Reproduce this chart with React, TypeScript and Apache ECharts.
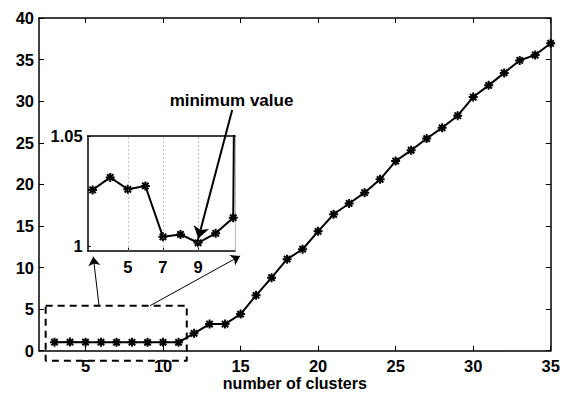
import React, { useEffect, useRef } from "react";
import * as echarts from "echarts";

// number of clusters (x) and objective value (y)
const clusters = [3, 4, 5, 6, 7, 8, 9, 10, 11, 12, 13, 14, 15, 16, 17, 18, 19, 20, 21, 22, 23, 24, 25, 26, 27, 28, 29, 30, 31, 32, 33, 34, 35];
const values = [1.0255, 1.0312, 1.0258, 1.0273, 1.0042, 1.0053, 1.0015, 1.0058, 1.0129, 2.09, 3.2, 3.2, 4.4, 6.66, 8.78, 11.0, 12.2, 14.35, 16.4, 17.7, 19.0, 20.6, 22.8, 24.1, 25.5, 26.8, 28.25, 30.5, 31.9, 33.4, 34.9, 35.55, 36.96];
const insetPointCount = 10; // x = 3..12 shown (clipped) in the inset

const mainXTicks = [5, 10, 15, 20, 25, 30, 35];
const insetXTicks = [5, 7, 9];
const insetYTicks = [1, 1.05];

// annotation geometry in data units
const zoomBoxX = [2.43, 11.53];
const zoomBoxY = [-1.2, 5.41];
const leftArrow = [[5.87, 5.41], [5.5, 11.3]];
const rightArrow = [[9.16, 5.41], [14.97, 11.39]];
const minArrow = [[10.94, 1.0618], [9.01, 1.0034]];

const ASTERISK = "path://M0,-1L0,1M-1,0L1,0M-0.707,-0.707L0.707,0.707M-0.707,0.707L0.707,-0.707";

export default function App() {
  const ref = useRef<HTMLDivElement>(null);
  useEffect(() => {
    if (!ref.current) return;
    const chart = echarts.init(ref.current, null, { renderer: "svg" });
    const font = { fontFamily: "Liberation Sans", fontWeight: "bold", fontSize: 16.5, color: "#000" };
    const axisLine = { show: true, onZero: false, lineStyle: { color: "#000", width: 1.5 } };
    const pts = clusters.map((c, i) => [c, values[i]]);
    const box = [
      [zoomBoxX[0], zoomBoxY[1]],
      [zoomBoxX[1], zoomBoxY[1]],
      [zoomBoxX[1], zoomBoxY[0]],
      [zoomBoxX[0], zoomBoxY[0]],
      [zoomBoxX[0], zoomBoxY[1]],
    ];
    const option: any = {
      animation: false,
      backgroundColor: "#fff",
      grid: [
        { left: 39, top: 18, right: 17.3, bottom: 42.3, outerBoundsMode: "none" },
        { left: 87.7, top: 136, width: 147.3, height: 114.7, outerBoundsMode: "none" },
      ],
      xAxis: [
        {
          gridIndex: 0, type: "value", position: "bottom", min: 2, max: 35,
          axisLine,
          axisTick: { show: true, inside: true, length: 5, customValues: mainXTicks, lineStyle: { color: "#000", width: 1 } },
          axisLabel: { customValues: mainXTicks, margin: 7, ...font },
          splitLine: { show: false },
          name: "number of clusters", nameLocation: "middle", nameGap: 24.5, nameMoveOverlap: false,
          nameTextStyle: { ...font, fontSize: 16 },
        },
        {
          gridIndex: 0, type: "value", position: "top", min: 2, max: 35,
          axisLine,
          axisTick: { show: true, inside: true, length: 5, customValues: mainXTicks, lineStyle: { color: "#000", width: 1 } },
          axisLabel: { show: false },
          splitLine: { show: false },
        },
        {
          gridIndex: 1, type: "value", position: "bottom", min: 2.72, max: 11.1,
          axisLine,
          axisTick: { show: true, inside: true, length: 3, customValues: insetXTicks, lineStyle: { color: "#000", width: 1 } },
          axisLabel: { customValues: insetXTicks, margin: 8, ...font },
          splitLine: { show: false },
        },
        {
          gridIndex: 1, type: "value", position: "top", min: 2.72, max: 11.1,
          axisLine,
          axisTick: { show: false },
          axisLabel: { show: false },
          splitLine: { show: false },
        },
      ],
      yAxis: [
        {
          gridIndex: 0, type: "value", position: "left", min: 0, max: 40, interval: 5,
          axisLine,
          axisTick: { show: true, inside: true, length: 5, lineStyle: { color: "#000", width: 1 } },
          axisLabel: { margin: 5, ...font },
          splitLine: { show: false },
        },
        {
          gridIndex: 0, type: "value", position: "right", min: 0, max: 40, interval: 5,
          axisLine,
          axisTick: { show: true, inside: true, length: 5, lineStyle: { color: "#000", width: 1 } },
          axisLabel: { show: false },
          splitLine: { show: false },
        },
        {
          gridIndex: 1, type: "value", position: "left", min: 0.9979, max: 1.05,
          axisLine,
          axisTick: { show: true, inside: true, length: 3, customValues: insetYTicks, lineStyle: { color: "#000", width: 1 } },
          axisLabel: {
            customValues: insetYTicks, margin: 5, ...font,
            formatter: (v: number) => (Math.abs(v - 1) < 1e-6 ? "1" : v.toFixed(2)),
          },
          splitLine: { show: false },
        },
        {
          gridIndex: 1, type: "value", position: "right", min: 0.9979, max: 1.05,
          axisLine: { show: true, onZero: false, lineStyle: { color: "#bbb", width: 1 } },
          axisTick: { show: false },
          axisLabel: { show: false },
          splitLine: { show: false },
        },
      ],
      series: [
        {
          type: "line", xAxisIndex: 0, yAxisIndex: 0, data: pts, silent: true, z: 4,
          symbol: ASTERISK, symbolSize: 9,
          itemStyle: { color: "#000", borderColor: "#000", borderWidth: 2 },
          lineStyle: { color: "#000", width: 2 },
        },
        {
          type: "line", xAxisIndex: 2, yAxisIndex: 2, data: pts.slice(0, insetPointCount), silent: true, clip: true, z: 4,
          symbol: ASTERISK, symbolSize: 9,
          itemStyle: { color: "#000", borderColor: "#000", borderWidth: 2 },
          lineStyle: { color: "#000", width: 2 },
          markLine: {
            silent: true, symbol: "none", label: { show: false },
            lineStyle: { type: [1, 3], color: "#888", width: 1 },
            data: insetXTicks.map((v) => ({ xAxis: v })),
          },
        },
        {
          type: "line", xAxisIndex: 0, yAxisIndex: 0, data: box, silent: true, clip: false, z: 3,
          symbol: "none",
          lineStyle: { color: "#000", width: 2, type: [7, 5] },
        },
        {
          type: "lines", coordinateSystem: "cartesian2d", xAxisIndex: 0, yAxisIndex: 0, silent: true, clip: false, z: 5,
          symbol: ["none", "arrow"], symbolSize: 9,
          lineStyle: { color: "#000", width: 1, opacity: 1, curveness: 0 },
          data: [{ coords: leftArrow }, { coords: rightArrow }],
        },
        {
          type: "lines", coordinateSystem: "cartesian2d", xAxisIndex: 2, yAxisIndex: 2, silent: true, clip: false, z: 5,
          symbol: ["none", "arrow"], symbolSize: 12,
          lineStyle: { color: "#000", width: 2, opacity: 1, curveness: 0 },
          data: [{ coords: minArrow }],
        },
      ],
      graphic: [
        {
          type: "text", x: 231.5, y: 100, silent: true,
          style: {
            text: "minimum value", fill: "#000", align: "center", verticalAlign: "middle",
            font: "bold 17px 'Liberation Sans'",
          },
        },
      ],
    };
    chart.setOption(option);
    return () => chart.dispose();
  }, []);
  return <div ref={ref} style={{ width: 568, height: 393, position: "absolute", left: 0, top: 0 }} />;
}
